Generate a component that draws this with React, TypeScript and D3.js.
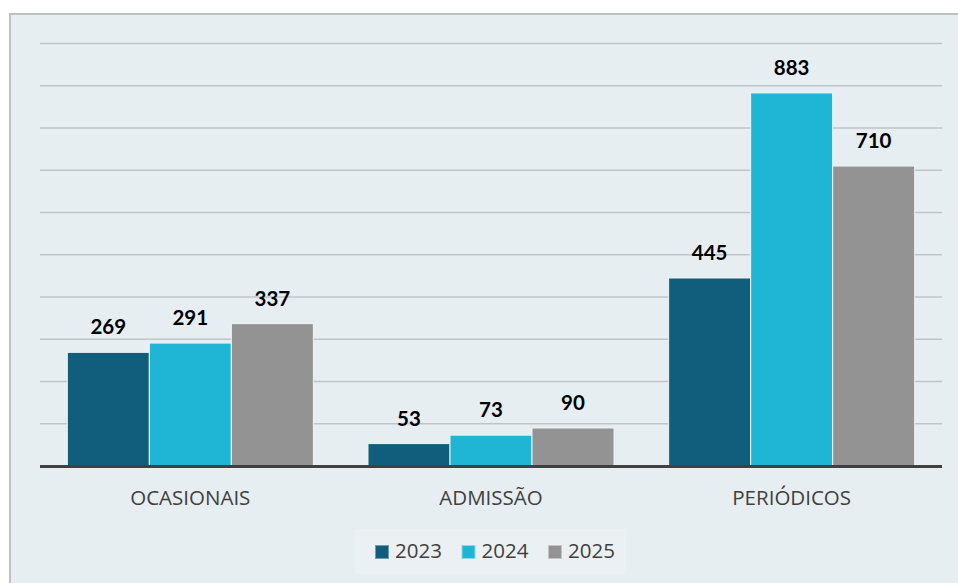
import React, { useEffect, useRef } from 'react';
import * as d3 from 'd3';

// chart data
const categories = ['OCASIONAIS', 'ADMISSÃO', 'PERIÓDICOS'];
const years = ['2023', '2024', '2025'];
const values2023 = [269, 53, 445];
const values2024 = [291, 73, 883];
const values2025 = [337, 90, 710];
const gridTicks = [0, 100, 200, 300, 400, 500, 600, 700, 800, 900, 1000];

const colors = ['#115e7c', '#1fb6d6', '#939393'];
const legendStroke = ['#6f9bb0', '#8fd8ea', '#c4c4c4'];

const WIDTH = 958;
const HEIGHT = 583;

export default function App() {
  const svgRef = useRef<SVGSVGElement | null>(null);

  useEffect(() => {
    d3.select(svgRef.current).selectAll('*').remove();
    const svg = d3.select(svgRef.current);

    const series = [values2023, values2024, values2025];
    const rows = categories.map((c, i) => ({
      category: c,
      values: years.map((yr, j) => ({ year: yr, idx: j, value: series[j][i] })),
    }));

    // panel
    svg.append('rect')
      .attr('x', 10)
      .attr('y', 14)
      .attr('width', WIDTH)
      .attr('height', HEIGHT)
      .attr('fill', '#e7eef2')
      .attr('stroke', '#c0c0c0')
      .attr('stroke-width', 2);

    const x0 = d3.scaleBand()
      .domain(categories)
      .range([40, 942])
      .paddingInner(0)
      .paddingOuter(0);

    const x1 = d3.scaleBand()
      .domain(years)
      .range([0, x0.bandwidth()])
      .paddingInner(0)
      .paddingOuter(0.333);

    const y = d3.scaleLinear()
      .domain([0, 1000])
      .range([466, 43.5]);

    // gridlines
    svg.append('g')
      .selectAll('line')
      .data(gridTicks.slice(1))
      .enter()
      .append('line')
      .attr('x1', 40)
      .attr('x2', 942)
      .attr('y1', (d) => y(d))
      .attr('y2', (d) => y(d))
      .attr('stroke', '#c0c4c8')
      .attr('stroke-width', 1.5);

    // bars
    const groups = svg.append('g')
      .selectAll('g')
      .data(rows)
      .enter()
      .append('g')
      .attr('transform', (d) => `translate(${x0(d.category)},0)`);

    groups.selectAll('rect')
      .data((d) => d.values)
      .enter()
      .append('rect')
      .attr('x', (d) => x1(d.year) as number)
      .attr('y', (d) => y(d.value))
      .attr('width', x1.bandwidth())
      .attr('height', (d) => y(0) - y(d.value))
      .attr('fill', (d) => colors[d.idx])
      .attr('stroke', '#eef4f7')
      .attr('stroke-width', 1);

    groups.selectAll('text')
      .data((d) => d.values)
      .enter()
      .append('text')
      .attr('x', (d) => (x1(d.year) as number) + x1.bandwidth() / 2)
      .attr('y', (d) => y(d.value) - 18)
      .style('text-anchor', 'middle')
      .attr('font-family', 'Lato')
      .attr('font-weight', 'bold')
      .attr('font-size', '20.5px')
      .attr('fill', '#000')
      .text((d) => d.value);

    // baseline
    svg.append('line')
      .attr('x1', 40)
      .attr('x2', 942)
      .attr('y1', y(0) + 0.5)
      .attr('y2', y(0) + 0.5)
      .attr('stroke', '#404040')
      .attr('stroke-width', 3);

    // category labels
    svg.append('g')
      .selectAll('text')
      .data(categories)
      .enter()
      .append('text')
      .attr('x', (d) => (x0(d) as number) + x0.bandwidth() / 2)
      .attr('y', 505)
      .style('text-anchor', 'middle')
      .attr('font-family', 'Open Sans')
      .attr('font-size', '20.5px')
      .attr('fill', '#404040')
      .text((d) => d);

    // legend
    svg.append('rect')
      .attr('x', 355)
      .attr('y', 529)
      .attr('width', 271)
      .attr('height', 45)
      .attr('fill', '#ebf0f3');

    const legend = svg.append('g')
      .selectAll('g')
      .data(years)
      .enter()
      .append('g')
      .attr('transform', (d, i) => `translate(${375 + i * 86.5},0)`);

    legend.append('rect')
      .attr('x', 0.5)
      .attr('y', 545.5)
      .attr('width', 13)
      .attr('height', 13)
      .attr('fill', (d, i) => colors[i])
      .attr('stroke', (d, i) => legendStroke[i])
      .attr('stroke-width', 1);

    legend.append('text')
      .attr('x', 20)
      .attr('y', 558)
      .attr('font-family', 'Open Sans')
      .attr('font-size', '20.5px')
      .attr('fill', '#404040')
      .text((d) => d);
  }, []);

  return (
    <div>
      <svg
        ref={svgRef}
        width={WIDTH}
        height={HEIGHT}
        style={{ position: 'absolute', left: 0, top: 0, display: 'block', background: '#fff' }}
      />
    </div>
  );
}
